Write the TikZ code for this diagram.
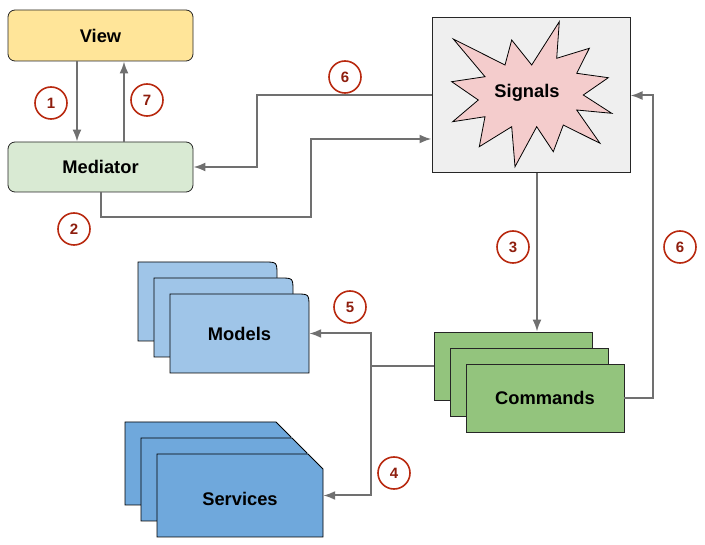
\documentclass[tikz,border=0pt]{standalone}
\usepackage{fontspec}
\setmainfont{Liberation Sans}
\usetikzlibrary{arrows.meta}

\definecolor{viewyellow}{HTML}{FFE599}
\definecolor{mediatorgreen}{HTML}{D9EAD3}
\definecolor{signalsgray}{HTML}{EFEFEF}
\definecolor{starpink}{HTML}{F4CCCC}
\definecolor{cmdgreen}{HTML}{93C47D}
\definecolor{modelblue}{HTML}{9FC5E8}
\definecolor{serviceblue}{HTML}{6FA8DC}
\definecolor{wiregray}{HTML}{707070}
\definecolor{badgered}{HTML}{B8290F}
\definecolor{badgetext}{HTML}{8E1E0E}

\tikzset{
	label font/.style={font=\fontsize{18.3}{21}\selectfont\bfseries},
	box/.style={draw=black!85, line width=0.8pt, inner sep=0pt, label font},
	card/.style={draw=black, line width=0.8pt},
	wire/.style={draw=wiregray, line width=2pt},
	badge/.style={circle, draw=badgered, line width=1.6pt, minimum size=32pt, inner sep=0pt,
		text=badgetext, font=\fontsize{15}{17}\selectfont\bfseries},
}

\begin{document}
\begin{tikzpicture}[x=1pt, y=-1pt, >={Latex[length=12pt,width=9pt]}]
		\useasboundingbox (0,0) rectangle (705,545);

		\node[box, rounded corners=7pt, fill=viewyellow, minimum width=185pt, minimum height=51pt] (view) at (100.5,35.5) {View};
		\node[box, rounded corners=7pt, fill=mediatorgreen, minimum width=185pt, minimum height=50pt] (mediator) at (100.5,167) {Mediator};

		% signals box with the burst
		\node[box, line width=1pt, fill=signalsgray, minimum width=198pt, minimum height=155pt] (signals) at (531,95.5) {};
		\draw[card, fill=starpink] (453.3,39) -- (505,65) -- (511.7,40) -- (531.7,65) -- (559.3,21.7) -- (556.7,58.3)
			-- (589.3,48.3) -- (576.7,73.3) -- (608.3,77.7) -- (583.3,95) -- (611.7,113.3) -- (576.7,110)
			-- (600,143.3) -- (563.3,125) -- (553.3,151.7) -- (536.7,126.7) -- (515,166.7) -- (511.7,126.7)
			-- (479.3,146.7) -- (485,116.7) -- (452.7,121.7) -- (478.3,100) -- (451.7,81.7) -- (485,76.7) -- cycle;
		\node[label font] (signalstext) at (527,93) {Signals};

		% commands stack
		\foreach \i in {0,1}
			\node[box, fill=cmdgreen, minimum width=158pt, minimum height=68pt] (cmd\i) at (513+16*\i,366+16*\i) {};
		\node[box, fill=cmdgreen, minimum width=158pt, minimum height=68pt] (commands) at (545,398) {Commands};

		% models stack
		\foreach \d in {0,16,32}
			\draw[card, fill=modelblue] (138+\d,341+\d) -- (138+\d,262+\d) -- (264+\d,262+\d)
				.. controls (277+\d,262+\d) .. (277+\d,275+\d) -- (277+\d,341+\d) -- cycle;
		\node[label font, minimum width=139pt, minimum height=79pt, inner sep=0pt] (models) at (239.5,333.5) {Models};

		% services stack
		\foreach \d in {0,16,32}
			\draw[card, fill=serviceblue] (125+\d,422+\d) -- (276+\d,422+\d) -- (291+\d,437+\d)
				-- (291+\d,505+\d) -- (125+\d,505+\d) -- cycle;
		\node[label font, text height=20pt, minimum width=166pt, minimum height=83pt, inner sep=0pt] (services) at (240,495.5) {Services};

		% connectors
		\draw[wire, ->] ([xshift=-23.5pt]view.south) -- ([xshift=-23.5pt]mediator.north);
		\draw[wire, ->] ([xshift=23.5pt]mediator.north) -- ([xshift=23.5pt]view.south);
		\draw[wire, ->] (mediator.south) |- (311,217) |- ([yshift=-43.5pt]signals.west);
		\draw[wire, ->] (signals.west) -| (257,167) -- (mediator.east);
		\draw[wire, ->] ([xshift=6pt]signals.south) -- ([xshift=6pt]signals.south |- cmd0.north);
		\draw[wire, ->] (commands.east) -- ++(29,0) |- (signals.east);
		\draw[wire] (cmd0.west) -- ++(-63,0) coordinate (split);
		\draw[wire, ->] (split) |- (models.east);
		\draw[wire, ->] (split) |- (services.east);

		% step numbers
		\foreach \n/\x/\y [count=\k] in {1/51/103, 7/147/100, 2/74/229, 6/345/77, 3/513/247, 6/680/247, 5/350/307, 4/394/473}
			\node[badge] (badge\k) at (\x,\y) {\n};
	\end{tikzpicture}
\end{document}
